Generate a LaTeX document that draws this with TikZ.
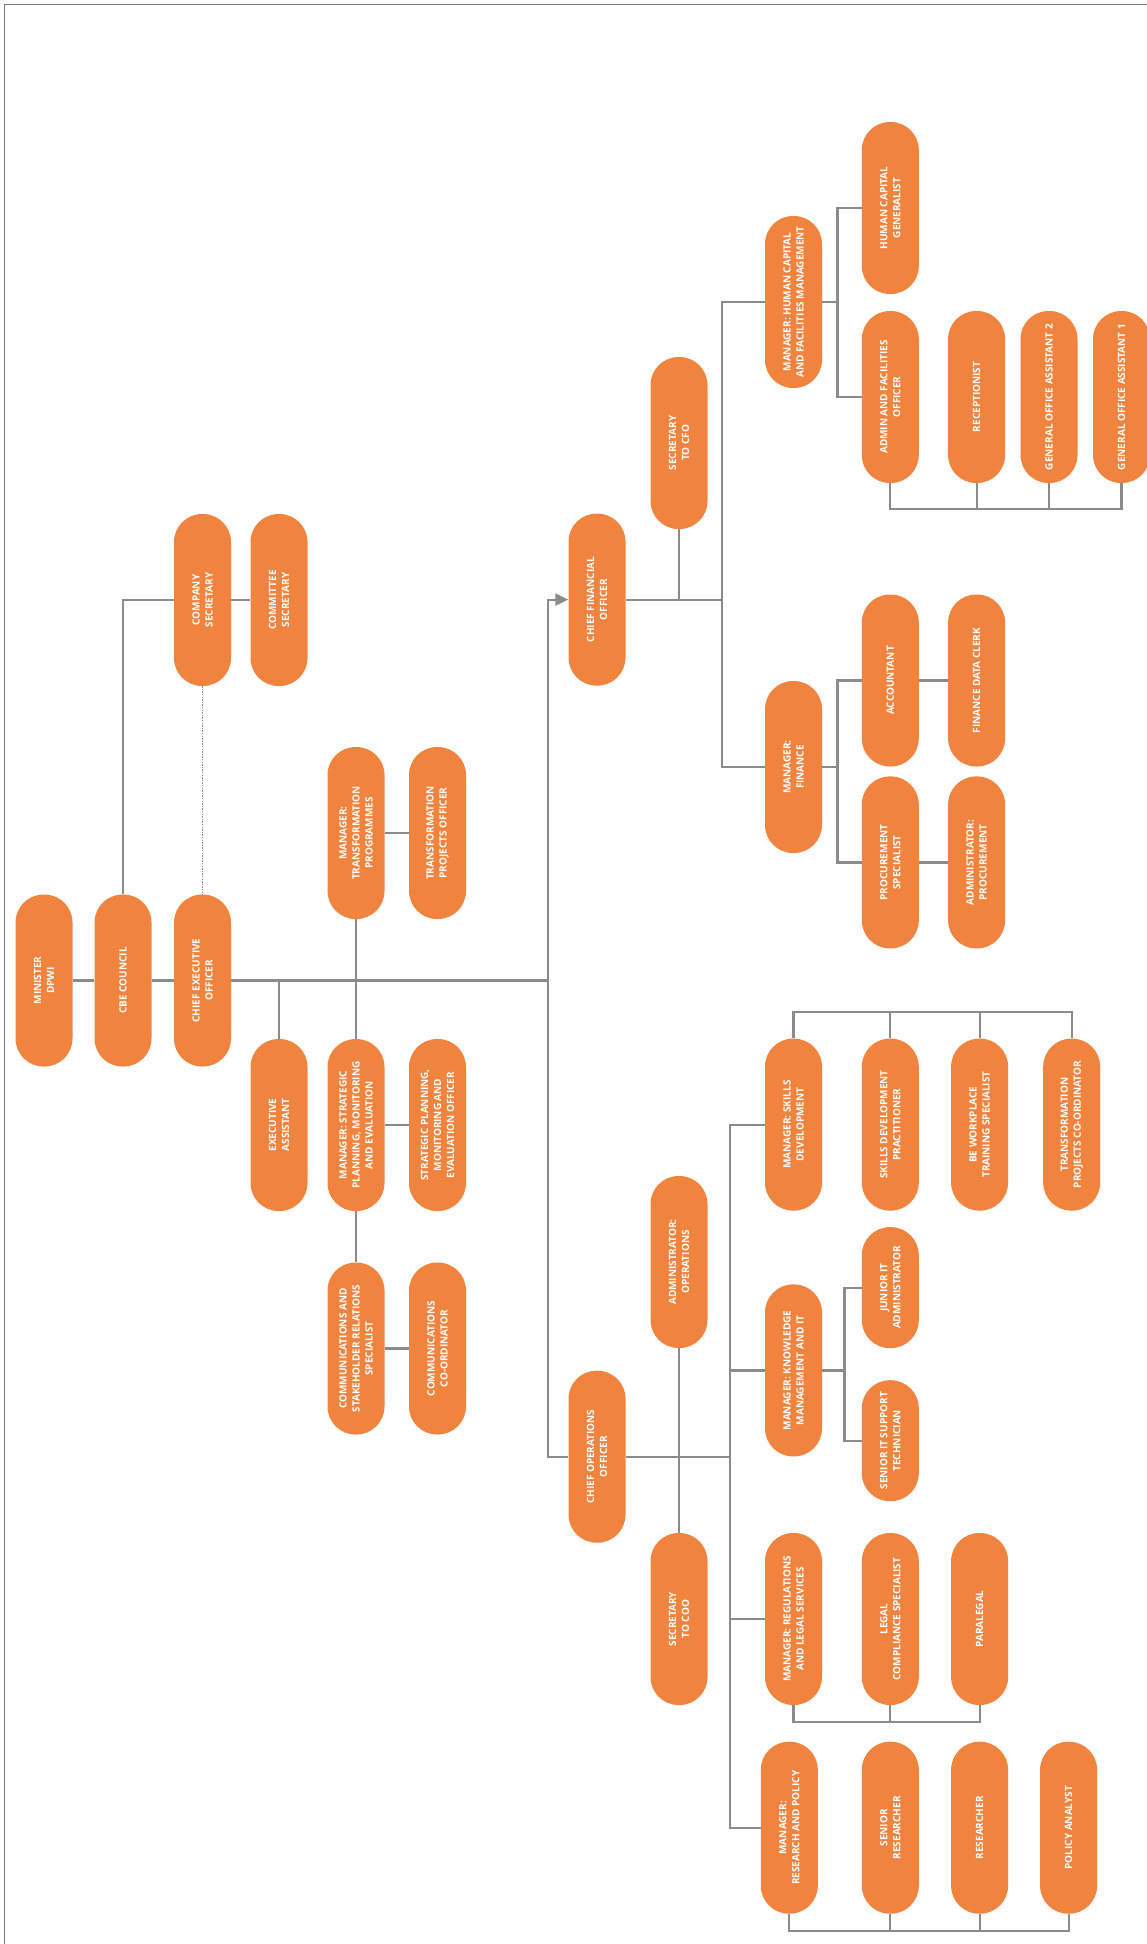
\documentclass[tikz,border=0pt]{standalone}
\usepackage{fontspec}
\setmainfont{Open Sans}
\usetikzlibrary{arrows.meta,calc}
\definecolor{dpwOrange}{RGB}{240,131,62}
\definecolor{lineGray}{RGB}{138,139,141}
\definecolor{frameGray}{RGB}{120,120,120}
\tikzset{
  pill/.style={rotate=90, rounded corners=28pt, fill=dpwOrange, text=white, align=center,
               minimum width=172pt, minimum height=57pt, inner sep=2pt,
               font=\fontsize{10}{13}\selectfont\bfseries},
  shortpill/.style={pill, minimum width=121pt},
  link/.style={line width=2.2pt, draw=lineGray},
  dotlink/.style={line width=1.4pt, draw=lineGray, dash pattern=on 1.4pt off 1.2pt},
  arrow/.style={link, -{Triangle[length=13pt, width=12pt]}}
}
\begin{document}
\begin{tikzpicture}[x=1pt, y=-1pt]
\useasboundingbox (0,0) rectangle (1147,1944);
\draw[frameGray, line width=1pt] (4,1944) -- (4,4) -- (1147,4);
\node[pill] (min) at (44,980.5) {MINISTER\\DPWI};
\node[pill] (cbe) at (123,980.5) {CBE COUNCIL};
\node[pill] (ceo) at (202.5,980.5) {CHIEF EXECUTIVE\\OFFICER};
\node[pill] (csec) at (202.5,600) {COMPANY\\SECRETARY};
\node[pill] (comsec) at (279,600) {COMMITTEE\\SECRETARY};
\node[pill] (ea) at (279,1125) {EXECUTIVE\\ASSISTANT};
\node[pill] (mtp) at (356,833) {MANAGER:\\TRANSFORMATION\\PROGRAMMES};
\node[pill] (tpo) at (437.5,833) {TRANSFORMATION\\PROJECTS OFFICER};
\node[pill] (mspme) at (356,1125) {MANAGER: STRATEGIC\\PLANNING, MONITORING\\AND EVALUATION};
\node[pill] (spme) at (437.5,1125) {STRATEGIC PLANNING,\\MONITORING AND\\EVALUATION OFFICER};
\node[pill] (csr) at (356,1348.5) {COMMUNICATIONS AND\\STAKEHOLDER RELATIONS\\SPECIALIST};
\node[pill] (cco) at (437.5,1348.5) {COMMUNICATIONS\\CO-ORDINATOR};
\node[pill] (cfo) at (597,599.6) {CHIEF FINANCIAL\\OFFICER};
\node[pill] (scfo) at (679,443) {SECRETARY\\TO CFO};
\node[pill] (mhc) at (793.5,302) {MANAGER: HUMAN CAPITAL\\AND FACILITIES MANAGEMENT};
\node[pill] (hcg) at (890.3,208) {HUMAN CAPITAL\\GENERALIST};
\node[pill] (afo) at (890.3,397) {ADMIN AND FACILITIES\\OFFICER};
\node[pill] (recp) at (976.6,397) {RECEPTIONIST};
\node[pill] (goa2) at (1049,397) {GENERAL OFFICE ASSISTANT 2};
\node[pill] (goa1) at (1121.5,397) {GENERAL OFFICE ASSISTANT 1};
\node[pill] (mfin) at (793.5,767) {MANAGER:\\FINANCE};
\node[pill] (acc) at (890.3,680.5) {ACCOUNTANT};
\node[pill] (fdc) at (976.6,680.5) {FINANCE DATA CLERK};
\node[pill] (prs) at (890.3,862.4) {PROCUREMENT\\SPECIALIST};
\node[pill] (adp) at (976.6,862.4) {ADMINISTRATOR:\\PROCUREMENT};
\node[pill] (coo) at (597,1456.7) {CHIEF OPERATIONS\\OFFICER};
\node[pill] (aops) at (679,1262) {ADMINISTRATOR:\\OPERATIONS};
\node[pill] (scoo) at (679,1619) {SECRETARY\\TO COO};
\node[pill] (msd) at (793.5,1124.6) {MANAGER: SKILLS\\DEVELOPMENT};
\node[pill] (sdp) at (890.3,1124.6) {SKILLS DEVELOPMENT\\PRACTITIONER};
\node[pill] (bew) at (979.6,1124.6) {BE WORKPLACE\\TRAINING SPECIALIST};
\node[pill] (tpc) at (1071.7,1124.6) {TRANSFORMATION\\PROJECTS CO-ORDINATOR};
\node[pill] (mkm) at (793.5,1370.4) {MANAGER: KNOWLEDGE\\MANAGEMENT AND IT};
\node[shortpill] (jit) at (890.3,1287.6) {JUNIOR IT\\ADMINISTRATOR};
\node[shortpill] (sit) at (890.3,1440.7) {SENIOR IT SUPPORT\\TECHNICIAN};
\node[pill] (mrl) at (793.5,1619) {MANAGER: REGULATIONS\\AND LEGAL SERVICES};
\node[pill] (lcs) at (890.3,1619) {LEGAL\\COMPLIANCE SPECIALIST};
\node[pill] (para) at (979.6,1619) {PARALEGAL};
\node[pill] (mrp) at (789.3,1827.7) {MANAGER:\\RESEARCH AND POLICY};
\node[pill] (sres) at (890.3,1827.7) {SENIOR\\RESEARCHER};
\node[pill] (res) at (979.6,1827.7) {RESEARCHER};
\node[pill] (pol) at (1068.6,1827.7) {POLICY ANALYST};
\coordinate (trunk) at (548,980.5);
\coordinate (cfob) at (722,599.6);
\coordinate (hcb) at (837.5,302);
\coordinate (finb) at (837.5,767);
\coordinate (coob) at (730,1456.7);
\coordinate (kmb) at (844.4,1370.4);
\coordinate (hrbus) at (0,509);
\coordinate (sdbus) at (0,1012);
\coordinate (rlbus) at (0,1722);
\coordinate (rpbus) at (0,1931);
\draw[link] (min) -- (cbe);
\draw[link] (cbe) -- (ceo);
\draw[link] (ceo) -- (trunk);
\draw[link] (cbe) |- (csec);
\draw[link] (csec) -- (comsec);
\draw[dotlink] (csec) -- (ceo);
\draw[link] (ea) -- (ea |- ceo);
\draw[link] (mtp) -- (mspme);
\draw[link] (mspme) -- (csr);
\draw[link] (mtp) -- (tpo);
\draw[link] (mspme) -- (spme);
\draw[link] (csr) -- (cco);
\draw[arrow] (trunk) |- (cfo);
\draw[link] (trunk) |- (coo);
\draw[link] (cfo) -- (cfob);
\draw[link] (scfo) -- (scfo |- cfo);
\draw[link] (mhc) -| (cfob) |- (mfin);
\draw[link] (mhc) -- (hcb);
\draw[link] (hcg) -| (hcb) |- (afo);
\draw[link] (afo) -- (afo |- hrbus) -- (goa1 |- hrbus) -- (goa1);
\draw[link] (recp) -- (recp |- hrbus);
\draw[link] (goa2) -- (goa2 |- hrbus);
\draw[link] (mfin) -- (finb);
\draw[link] (acc) -| (finb) |- (prs);
\draw[link] (acc) -- (fdc);
\draw[link] (prs) -- (adp);
\draw[link] (coo) -- (coob);
\draw[link] (aops) -- (scoo);
\draw[link] (msd) -| (coob) |- (mrp);
\draw[link] (mkm) -- (mkm -| coob);
\draw[link] (mrl) -- (mrl -| coob);
\draw[link] (msd) -- (msd |- sdbus) -- (tpc |- sdbus) -- (tpc);
\draw[link] (sdp) -- (sdp |- sdbus);
\draw[link] (bew) -- (bew |- sdbus);
\draw[link] (mkm) -- (kmb);
\draw[link] (jit) -| (kmb) |- (sit);
\draw[link] (mrl) -- (mrl |- rlbus) -- (para |- rlbus) -- (para);
\draw[link] (lcs) -- (lcs |- rlbus);
\draw[link] (mrp) -- (mrp |- rpbus) -- (pol |- rpbus) -- (pol);
\draw[link] (sres) -- (sres |- rpbus);
\draw[link] (res) -- (res |- rpbus);
\end{tikzpicture}
\end{document}
